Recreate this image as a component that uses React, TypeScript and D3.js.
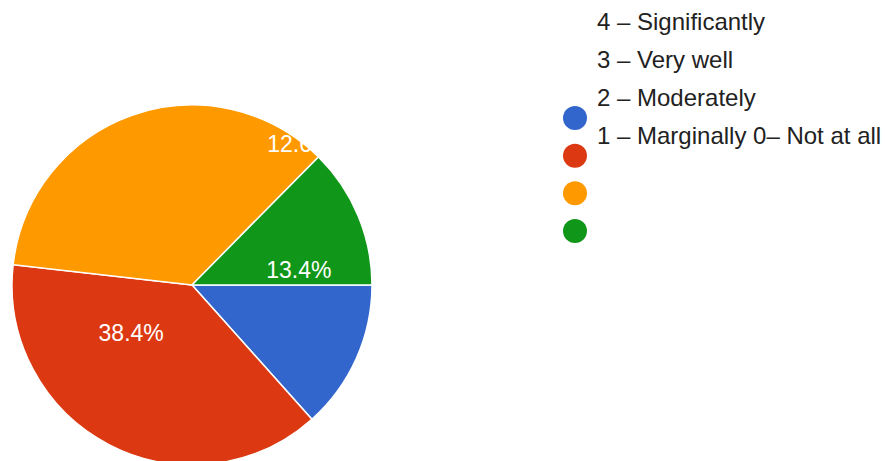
import React from "react";
import * as d3 from "d3";

const categories = ["4 – Significantly", "3 – Very well", "2 – Moderately", "1 – Marginally 0– Not at all"];
const values = [13.4, 38.4, 35.6, 12.6];
const colors = ["#3366cc", "#dc3912", "#ff9900", "#109618"];
// slice labels as drawn in the reference: text, position around the circle (% from 3 o'clock, clockwise), radius fraction
const labelTexts = ["13.4%", "38.4%", "12.6%"];
const labelTurns = [97.7, 39.4, 85.4];
const labelRadii = [0.6, 0.43, 0.985];

const W = 885;
const H = 461;

export default function App() {
  const cx = 192;
  const cy = 285;
  const r = 180;
  const pie = d3
    .pie<number>()
    .sort(null)
    .value((d) => d)
    .startAngle(Math.PI / 2)
    .endAngle(Math.PI / 2 + 2 * Math.PI);
  const arcs = pie(values);
  const arc = d3.arc<d3.PieArcDatum<number>>().innerRadius(0).outerRadius(r);
  const turn = d3.scaleLinear().domain([0, 100]).range([0, 2 * Math.PI]);
  const rad = d3.scaleLinear().domain([0, 1]).range([0, r]);

  const legendY = d3.scalePoint<number>().domain(d3.range(categories.length)).range([30, 144]);
  const dotY = d3.scalePoint<number>().domain(d3.range(colors.length)).range([118, 231]);

  return (
    <svg
      width={W}
      height={H}
      style={{ position: "absolute", left: 0, top: 0, background: "#fff" }}
      fontFamily="'Liberation Sans', Arial, sans-serif"
    >
      <g transform={`translate(${cx},${cy})`}>
        {arcs.map((a, i) => (
          <path key={i} d={arc(a) || ""} fill={colors[i]} stroke="#fff" strokeWidth={1.5} />
        ))}
        {labelTexts.map((t, i) => {
          const ang = turn(labelTurns[i]);
          const rr = rad(labelRadii[i]);
          return (
            <text
              key={i}
              x={Math.cos(ang) * rr}
              y={Math.sin(ang) * rr}
              dy="0.35em"
              textAnchor="middle"
              fill="#fff"
              fontSize={23}
            >
              {t}
            </text>
          );
        })}
      </g>
      {colors.map((c, i) => (
        <circle key={i} cx={575} cy={dotY(i)} r={12} fill={c} />
      ))}
      {categories.map((t, i) => (
        <text key={i} x={597} y={legendY(i)} fontSize={24} fill="#222">
          {t}
        </text>
      ))}
    </svg>
  );
}
